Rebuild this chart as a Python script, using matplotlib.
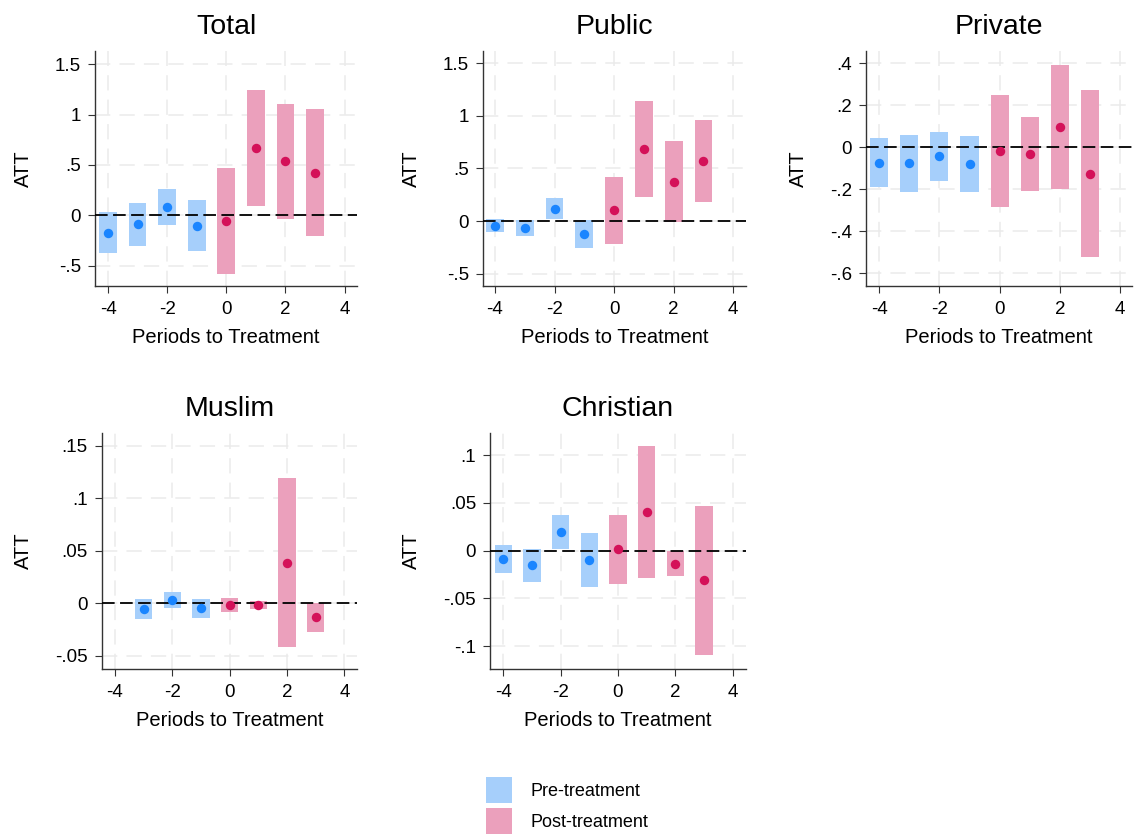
import numpy as np
import matplotlib
matplotlib.use("Agg")
import matplotlib.pyplot as plt
from matplotlib.patches import Patch

plt.rcParams['font.family'] = ['Liberation Sans', 'DejaVu Sans']
plt.rcParams['axes.unicode_minus'] = False

PRE_BAR = '#a6cffb'
PRE_DOT = '#1a85ff'
POST_BAR = '#eba0bc'
POST_DOT = '#d41159'

periods = [-4, -3, -2, -1, 0, 1, 2, 3]

# event-study estimates and CI bounds per outcome
total_att = [-0.172, -0.089, 0.079, -0.106, -0.053, 0.667, 0.535, 0.423]
total_lo = [-0.380, -0.304, -0.102, -0.360, -0.581, 0.092, -0.040, -0.205]
total_hi = [0.036, 0.119, 0.257, 0.155, 0.469, 1.241, 1.109, 1.050]

public_att = [-0.044, -0.067, 0.117, -0.120, 0.101, 0.685, 0.374, 0.571]
public_lo = [-0.101, -0.146, 0.016, -0.254, -0.216, 0.231, -0.005, 0.184]
public_hi = [0.016, 0.010, 0.216, 0.010, 0.418, 1.138, 0.758, 0.960]

private_att = [-0.073, -0.076, -0.043, -0.079, -0.019, -0.032, 0.095, -0.125]
private_lo = [-0.187, -0.211, -0.160, -0.214, -0.286, -0.206, -0.197, -0.521]
private_hi = [0.044, 0.057, 0.075, 0.054, 0.251, 0.144, 0.390, 0.271]

muslim_periods = [-3, -2, -1, 0, 1, 2, 3]
muslim_att = [-0.0051, 0.0032, -0.0048, -0.0016, -0.0013, 0.0387, -0.0133]
muslim_lo = [-0.0149, -0.0041, -0.0140, -0.0086, -0.0051, -0.0413, -0.0270]
muslim_hi = [0.0044, 0.0108, 0.0041, 0.0051, 0.0022, 0.1194, 0.0003]

christian_att = [-0.0090, -0.0153, 0.0195, -0.0101, 0.0014, 0.0403, -0.0136, -0.0313]
christian_lo = [-0.0233, -0.0330, 0.0017, -0.0386, -0.0348, -0.0289, -0.0268, -0.1096]
christian_hi = [0.0056, 0.0017, 0.0372, 0.0188, 0.0376, 0.1096, 0.0, 0.0470]

panels = [
    ("Total", periods, total_att, total_lo, total_hi,
     [-0.5, 0, 0.5, 1, 1.5], ["-.5", "0", ".5", "1", "1.5"], (-0.703, 1.634),
     (-4.44, 4.42), [0.0838, 0.6575, 0.2310, 0.2818]),
    ("Public", periods, public_att, public_lo, public_hi,
     [-0.5, 0, 0.5, 1, 1.5], ["-.5", "0", ".5", "1", "1.5"], (-0.618, 1.62),
     (-4.41, 4.43), [0.4257, 0.6575, 0.2322, 0.2818]),
    ("Private", periods, private_att, private_lo, private_hi,
     [-0.6, -0.4, -0.2, 0, 0.2, 0.4], ["-.6", "-.4", "-.2", "0", ".2", ".4"], (-0.66, 0.46),
     (-4.44, 4.40), [0.7637, 0.6575, 0.2345, 0.2818]),
    ("Muslim", muslim_periods, muslim_att, muslim_lo, muslim_hi,
     [-0.05, 0, 0.05, 0.1, 0.15], ["-.05", "0", ".05", ".1", ".15"], (-0.0619, 0.1625),
     (-4.46, 4.45), [0.0897, 0.1994, 0.2254, 0.2824]),
    ("Christian", periods, christian_att, christian_lo, christian_hi,
     [-0.1, -0.05, 0, 0.05, 0.1], ["-.1", "-.05", "0", ".05", ".1"], (-0.1235, 0.1235),
     (-4.46, 4.46), [0.4321, 0.1994, 0.2257, 0.2824]),
]

fig = plt.figure(figsize=(11.34, 8.35), dpi=100)

for title, x, att, lo, hi, yt, ytl, ylim, xlim, rect in panels:
    ax = fig.add_axes(rect)
    x = np.array(x)
    att = np.array(att)
    lo = np.array(lo)
    hi = np.array(hi)
    pre = x < 0
    post = ~pre

    ax.bar(x[pre], hi[pre] - lo[pre], bottom=lo[pre], width=0.6,
           color=PRE_BAR, zorder=2)
    ax.bar(x[post], hi[post] - lo[post], bottom=lo[post], width=0.6,
           color=POST_BAR, zorder=2)
    ax.plot(x[pre], att[pre], 'o', color=PRE_DOT, ms=6.8, mew=0, zorder=4)
    ax.plot(x[post], att[post], 'o', color=POST_DOT, ms=6.8, mew=0, zorder=4)

    ax.axhline(0, color='black', lw=1.3, ls=(0, (7, 3)), zorder=3)

    ax.set_xlim(*xlim)
    ax.set_ylim(*ylim)
    ax.set_xticks([-4, -2, 0, 2, 4])
    ax.set_yticks(yt)
    ax.set_yticklabels(ytl)
    ax.tick_params(axis='both', labelsize=13.5, length=5, width=0.8, color='#333333')
    ax.tick_params(axis='x', pad=6)
    ax.tick_params(axis='y', pad=5)
    ax.grid(True, color='#ebebeb', lw=1.1, ls=(0, (10, 6)), zorder=0)
    ax.set_axisbelow(True)
    for side in ('top', 'right'):
        ax.spines[side].set_visible(False)
    for side in ('left', 'bottom'):
        ax.spines[side].set_color('#333333')
        ax.spines[side].set_linewidth(1.0)

    ax.set_title(title, fontsize=20.5, pad=12)
    ax.set_xlabel("Periods to Treatment", fontsize=14.5, labelpad=7)
    ax.set_ylabel("ATT", fontsize=14.5, labelpad=16)

handles = [Patch(facecolor=PRE_BAR, edgecolor='none', label='Pre-treatment'),
           Patch(facecolor=POST_BAR, edgecolor='none', label='Post-treatment')]
fig.legend(handles=handles, loc='upper left', bbox_to_anchor=(0.4286, 0.0695),
           frameon=False, fontsize=13, handlelength=1.44, handleheight=1.84,
           handletextpad=1.05, labelspacing=0.28, borderpad=0, borderaxespad=0)

fig.savefig("out.png", dpi=100)
